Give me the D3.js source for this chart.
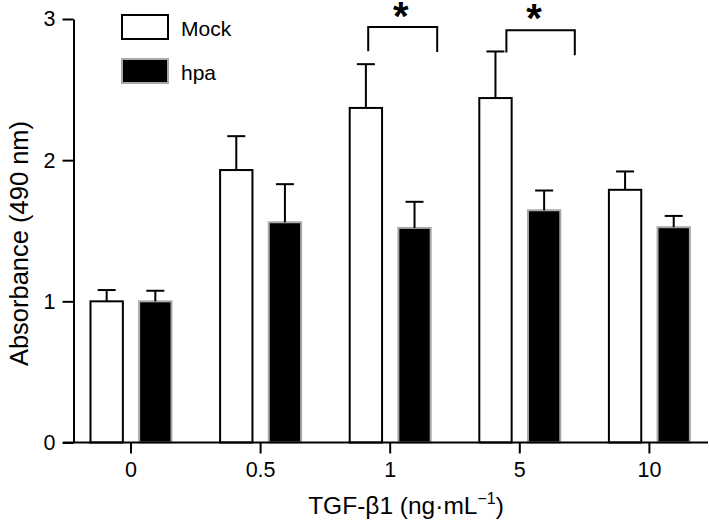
<!DOCTYPE html>
<html>
<head>
<meta charset="utf-8">
<script src="https://cdn.jsdelivr.net/npm/d3@7"></script>
<style>
  html, body { margin: 0; padding: 0; background: #fff; }
  svg { display: block; }
  text { font-family: "Liberation Sans", Arial, Helvetica, sans-serif; fill: #000; }
</style>
</head>
<body>
<svg id="chart" width="709" height="523"></svg>
<script>
// ---- data ----
const categories = ["0", "0.5", "1", "5", "10"];
const series = ["Mock", "hpa"];
const mockValues = [1.00, 1.93, 2.37, 2.44, 1.79];
const mockErrors = [0.08, 0.24, 0.31, 0.33, 0.13];
const hpaValues = [1.00, 1.56, 1.52, 1.645, 1.525];
const hpaErrors = [0.075, 0.27, 0.185, 0.14, 0.08];
const yTicks = [0, 1, 2, 3];
const sigGroups = ["1", "5"];
const sigTop = [2.943, 2.921];
const sigLegLeft = [2.772, 2.763];
const sigLegRight = [2.766, 2.744];
const sigLabels = ["*", "*"];

// ---- layout ----
const W = 709, H = 523;
const svg = d3.select("#chart");
const fontSize = 21.5;

const x = d3.scaleBand().domain(categories).range([66.2, 714.2]).padding(0);
const x1 = d3.scaleBand().domain(series).range([-40.5, 40.5]).paddingInner(0.335).paddingOuter(0);
const y = d3.scaleLinear().domain([0, 3]).range([442.5, 19]);

const center = c => x(c) + x.bandwidth() / 2;

const rows = [];
categories.forEach((c, i) => {
  rows.push({ cat: c, s: "Mock", v: mockValues[i], e: mockErrors[i] });
  rows.push({ cat: c, s: "hpa", v: hpaValues[i], e: hpaErrors[i] });
});

// bars
svg.append("g").selectAll("rect").data(rows).join("rect")
  .attr("x", d => center(d.cat) + x1(d.s))
  .attr("y", d => y(d.v))
  .attr("width", x1.bandwidth())
  .attr("height", d => y(0) - y(d.v))
  .attr("fill", d => d.s === "Mock" ? "#fff" : "#000")
  .attr("stroke", d => d.s === "Mock" ? "#000" : "#a8a8a8")
  .attr("stroke-width", 2);

// error bars
const eg = svg.append("g").attr("stroke", "#000").attr("stroke-width", 2);
rows.forEach(d => {
  const cx = center(d.cat) + x1(d.s) + x1.bandwidth() / 2;
  eg.append("line").attr("x1", cx).attr("x2", cx).attr("y1", y(d.v)).attr("y2", y(d.v + d.e));
  eg.append("line").attr("x1", cx - 9).attr("x2", cx + 9).attr("y1", y(d.v + d.e)).attr("y2", y(d.v + d.e));
});

// y axis
const yAxis = svg.append("g")
  .attr("transform", "translate(73.5,0)")
  .call(d3.axisLeft(y).tickValues(yTicks).tickFormat(d3.format("d")).tickSize(11).tickSizeOuter(0).tickPadding(7));
yAxis.selectAll("path, line").attr("stroke", "#000").attr("stroke-width", 2);
yAxis.selectAll("text").style("font-size", fontSize + "px").style("font-family", "'Liberation Sans', Arial, sans-serif").attr("fill", "#000");

// x axis
const xAxis = svg.append("g")
  .attr("transform", `translate(0,${y(0)})`)
  .call(d3.axisBottom(x).tickSize(11).tickPadding(8));
xAxis.select(".domain").remove();
xAxis.selectAll("line").attr("stroke", "#000").attr("stroke-width", 2);
xAxis.selectAll("text").style("font-size", fontSize + "px").style("font-family", "'Liberation Sans', Arial, sans-serif").attr("fill", "#000");
svg.append("line")
  .attr("x1", 63).attr("x2", 708).attr("y1", y(0)).attr("y2", y(0))
  .attr("stroke", "#000").attr("stroke-width", 2);

// axis titles
svg.append("text")
  .attr("transform", "translate(28,243.5) rotate(-90)")
  .attr("text-anchor", "middle")
  .style("font-size", "25.5px")
  .text("Absorbance (490 nm)");

const xt = svg.append("text")
  .attr("x", 406).attr("y", 514)
  .attr("text-anchor", "middle")
  .style("font-size", "24.5px");
xt.append("tspan").text("TGF-β1 (ng·mL");
xt.append("tspan").attr("dy", -10).style("font-size", "16px").text("−1");
xt.append("tspan").attr("dy", 10).text(")");

// legend
const lg = svg.append("g");
series.forEach((s, i) => {
  const ly = 15 + i * 44;
  lg.append("rect").attr("x", 122).attr("y", ly).attr("width", 46).attr("height", 24)
    .attr("fill", s === "Mock" ? "#fff" : "#000")
    .attr("stroke", s === "Mock" ? "#000" : "#a8a8a8")
    .attr("stroke-width", 2);
  lg.append("text").attr("x", 181).attr("y", ly + 20.5)
    .style("font-size", "21px").text(s);
});

// significance brackets
const leftOff = [-22, -13.4];
const rightOff = [47, 55];
const starOff = [10.5, 14.3];
const starCenterY = [10, 12.5];
sigGroups.forEach((g, i) => {
  const c = center(g);
  const xl = c + leftOff[i], xr = c + rightOff[i];
  svg.append("path")
    .attr("d", `M${xl},${y(sigLegLeft[i])}V${y(sigTop[i])}H${xr}V${y(sigLegRight[i])}`)
    .attr("fill", "none").attr("stroke", "#000").attr("stroke-width", 2);
  svg.append("text")
    .attr("x", c + starOff[i]).attr("y", starCenterY[i] + 19.5)
    .attr("text-anchor", "middle")
    .style("font-size", "40px").style("font-weight", "bold")
    .text(sigLabels[i]);
});
</script>
</body>
</html>
